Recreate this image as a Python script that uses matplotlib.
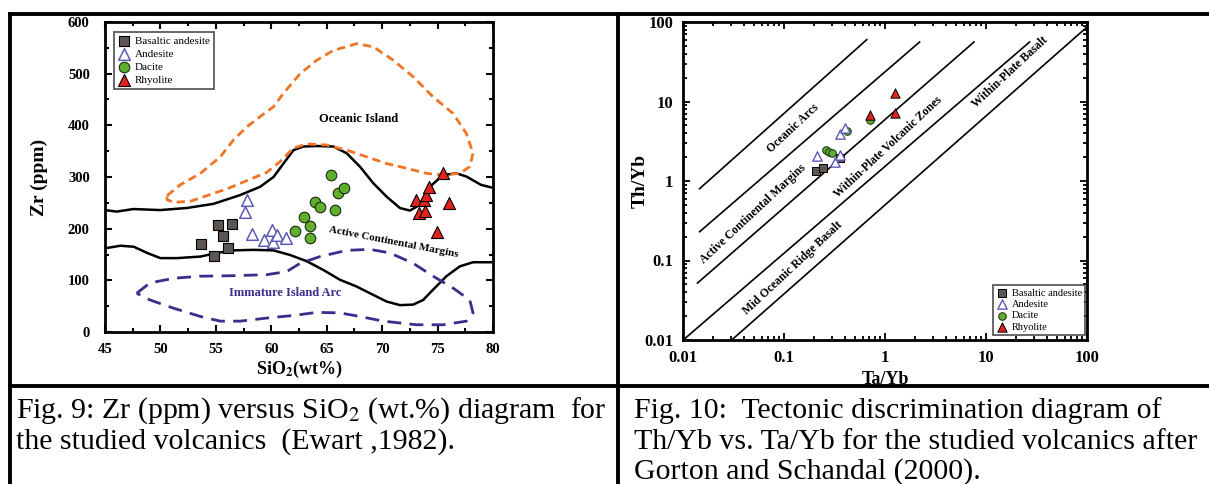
import matplotlib
matplotlib.use("Agg")
import matplotlib.pyplot as plt
from matplotlib.lines import Line2D
from matplotlib.patches import Rectangle
from matplotlib.ticker import FixedLocator, MultipleLocator, LogLocator, NullFormatter

plt.rcParams['font.family'] = ['Liberation Serif', 'DejaVu Serif']
plt.rcParams['mathtext.fontset'] = 'stix'

# ---------------- Fig. 9 data (Zr vs SiO2) ----------------
ba_sio2 = [53.7, 55.2, 55.6, 56.5, 54.8, 56.1]
ba_zr = [170, 207, 185, 209, 147, 162]
an_sio2 = [57.85, 57.64, 58.24, 59.3, 60.05, 60.14, 60.56, 61.3]
an_zr = [256, 233, 189, 178, 198, 175, 188, 182]
da_sio2 = [62.15, 62.97, 63.5, 63.5, 63.96, 64.4, 65.37, 65.76, 66.0, 66.6]
da_zr = [196, 223, 205, 182, 252, 241, 303, 236, 270, 278]
rh_sio2 = [73.08, 73.29, 73.74, 73.95, 74.25, 73.89, 75.48, 75.99, 74.94]
rh_zr = [256, 230, 256, 265, 281, 235, 307, 249, 194]

# boundary curves
upper_x = [45, 46.05, 47.56, 49.97, 52.37, 54.78, 57.19, 58.99, 60.2, 61.1, 62.0, 62.9, 64.1,
           65.6, 66.8, 68.0, 69.2, 70.4, 71.6, 72.5, 73.4, 74.3, 75.5, 76.7, 77.6, 78.9, 79.8]
upper_y = [236, 233, 238, 236, 240, 248, 265, 281, 300, 326, 352, 359, 360,
           359, 346, 320, 288, 262, 240, 235, 246, 281, 304, 307, 301, 285, 280]
lower_x = [45, 46.4, 47.6, 48.8, 50, 51.5, 53.6, 55.1, 56.6, 58.4, 60.2, 61.7, 63.2, 64.7,
           66.2, 67.7, 68.9, 70.4, 71.6, 72.8, 73.7, 74.6, 75.8, 77.0, 78.2, 79.8]
lower_y = [162, 167, 165, 153, 143, 143, 146, 153, 158, 159, 158, 149, 137, 120,
           101, 88, 75, 59, 52, 53, 62, 82, 108, 127, 135, 135]
oi_x = [50.6, 51.8, 53.6, 55.4, 56.6, 57.8, 59.0, 60.2, 61.1, 62.6, 64.1, 65.6, 67.7, 69.2,
        71.0, 72.8, 74.6, 76.4, 77.6, 78.2, 77.9, 77.0, 75.5, 74.0, 72.2, 70.4, 68.6, 66.8,
        65.0, 63.2, 62.0, 60.8, 59.6, 57.8, 56.0, 54.2, 52.7, 51.2, 50.6, 50.6]
oi_y = [264, 285, 307, 339, 372, 397, 417, 436, 462, 500, 526, 545, 558, 552,
        526, 494, 455, 423, 384, 346, 320, 307, 304, 307, 317, 326, 339, 352,
        362, 364, 356, 330, 309, 293, 277, 264, 253, 251, 256, 264]
iia_x = [47.86, 49.06, 51.2, 53.6, 56.6, 59.6, 61.4, 62.6, 64.4, 66.8, 68.9, 70.7, 72.8,
         74.6, 76.4, 77.9, 78.2, 77.6, 75.5, 73.1, 70.1, 68.0, 66.2, 64.1, 62.0, 59.6,
         57.2, 55.4, 53.6, 51.2, 49.06, 47.86]
iia_y = [75, 95, 104, 108, 109, 111, 117, 133, 146, 158, 160, 153, 133,
         108, 85, 62, 37, 21, 14, 14, 21, 30, 37, 38, 32, 27,
         21, 21, 30, 46, 62, 75]

x1_ticks = [45, 50, 55, 60, 65, 70, 75, 80]
y1_ticks = [0, 100, 200, 300, 400, 500, 600]

# ---------------- Fig. 10 data (Th/Yb vs Ta/Yb) ----------------
ba_ta = [0.206, 0.243, 0.356]
ba_th = [1.33, 1.45, 1.95]
an_ta = [0.212, 0.318, 0.36, 0.36, 0.40]
an_th = [2.05, 1.75, 2.1, 3.9, 4.6]
da_ta = [0.262, 0.280, 0.296, 0.424, 0.716]
da_th = [2.42, 2.32, 2.25, 4.3, 5.9]
rh_ta = [0.716, 1.256, 1.27]
rh_th = [6.8, 7.1, 12.8]

# discrimination lines (start/end)
l_x0 = [0.0146, 0.0146, 0.0139, 0.0105, 0.0279]
l_y0 = [0.80, 0.23, 0.052, 0.0105, 0.0091]
l_x1 = [0.66, 2.2, 7.6, 27.0, 100.0]
l_y1 = [60.0, 56.0, 56.0, 56.0, 86.5]

log_ticks = [0.01, 0.1, 1, 10, 100]
log_labels = ['0.01', '0.1', '1', '10', '100']

legend_names = ['Basaltic andesite', 'Andesite', 'Dacite', 'Rhyolite']

# ---------------- figure ----------------
fig = plt.figure(figsize=(12.09, 4.84), dpi=100)
W, H = 1209, 484

def ax_rect(l, t, r, b):
    return [l / W, 1 - b / H, (r - l) / W, (b - t) / H]

c_ba = '#5d5653'
c_an = '#5b5bb5'
c_da = '#5fae2e'
c_rh = '#e2231c'

# ---- left chart ----
ax1 = fig.add_axes(ax_rect(105, 22, 493, 332))
ax1.plot(upper_x, upper_y, color='black', lw=1.8, zorder=2)
ax1.plot(lower_x, lower_y, color='black', lw=1.8, zorder=2)
ax1.plot(oi_x, oi_y, color='#f07424', lw=2.0, dashes=(3, 1.8), zorder=2)
ax1.plot(iia_x, iia_y, color='#3a2d8c', lw=2.0, dashes=(5, 3), zorder=2)

ax1.scatter(ba_sio2, ba_zr, marker='s', s=48, c=c_ba, edgecolors='black', linewidths=0.8,
            label=legend_names[0], zorder=4)
ax1.scatter(an_sio2, an_zr, marker='^', s=70, facecolors='white', edgecolors=c_an, linewidths=1.1,
            label=legend_names[1], zorder=4)
ax1.scatter(da_sio2, da_zr, marker='o', s=58, c=c_da, edgecolors='#1a2a10', linewidths=0.8,
            label=legend_names[2], zorder=4)
ax1.scatter(rh_sio2, rh_zr, marker='^', s=75, c=c_rh, edgecolors='black', linewidths=0.8,
            label=legend_names[3], zorder=4)

ax1.text(67.9, 413, 'Oceanic Island', fontsize=9, fontweight='bold', ha='center', va='center')
ax1.text(71.0, 173, 'Active Continental Margins', fontsize=8, fontweight='bold',
         ha='center', va='center', rotation=-11)
ax1.text(61.25, 75, 'Immature Island Arc', fontsize=9, fontweight='bold', ha='center',
         va='center', color='#3a2d8c')

ax1.set_xlim(45, 80)
ax1.set_ylim(0, 600)
ax1.xaxis.set_major_locator(FixedLocator(x1_ticks))
ax1.yaxis.set_major_locator(FixedLocator(y1_ticks))
ax1.xaxis.set_minor_locator(MultipleLocator(2.5))
ax1.yaxis.set_minor_locator(MultipleLocator(50))
ax1.set_xticklabels([str(v) for v in x1_ticks])
ax1.set_yticklabels([str(v) for v in y1_ticks])
ax1.tick_params(which='both', direction='in', top=True, right=True, width=1.5)
ax1.tick_params(which='major', length=5, labelsize=10.5)
ax1.tick_params(axis='y', which='major', pad=11)
ax1.tick_params(axis='x', which='major', pad=8)
ax1.tick_params(which='minor', length=3)
for lab in ax1.get_xticklabels() + ax1.get_yticklabels():
    lab.set_fontweight('bold')
for sp in ax1.spines.values():
    sp.set_linewidth(2)
ax1.set_ylabel('Zr (ppm)', fontsize=14, fontweight='bold')
ax1.yaxis.set_label_coords(-0.148, 0.5)
ax1.set_xlabel(r'SiO$_\mathbf{2}$(wt%)', fontsize=13, fontweight='bold')
ax1.xaxis.set_label_coords(0.5, -0.088)
leg1 = ax1.legend(loc='upper left', bbox_to_anchor=(0.023, 0.968), fontsize=8,
                  frameon=True, fancybox=False, edgecolor='#333333', borderaxespad=0,
                  handletextpad=0.35, borderpad=0.35, labelspacing=0.3, handlelength=1.2)
leg1.get_frame().set_linewidth(1.3)

# ---- right chart ----
ax2 = fig.add_axes(ax_rect(683, 22, 1087, 340))
for xa, ya, xb, yb in zip(l_x0, l_y0, l_x1, l_y1):
    ax2.plot([xa, xb], [ya, yb], color='black', lw=1.2, zorder=2)

ax2.scatter(ba_ta, ba_th, marker='s', s=28, c=c_ba, edgecolors='black', linewidths=0.7,
            label=legend_names[0], zorder=4)
ax2.scatter(an_ta, an_th, marker='^', s=45, facecolors='white', edgecolors=c_an, linewidths=1.0,
            label=legend_names[1], zorder=5)
ax2.scatter(da_ta, da_th, marker='o', s=30, c=c_da, edgecolors='#1a2a10', linewidths=0.7,
            label=legend_names[2], zorder=4)
ax2.scatter(rh_ta, rh_th, marker='^', s=45, c=c_rh, edgecolors='black', linewidths=0.7,
            label=legend_names[3], zorder=4)

lbl_kw = dict(fontsize=8.5, fontweight='bold', ha='center', va='center', rotation=43,
              rotation_mode='anchor')
ax2.text(0.123, 4.57, 'Oceanic Arcs', **lbl_kw)
ax2.text(0.0493, 0.391, 'Active Continental Margins', **lbl_kw)
ax2.text(1.07, 2.69, 'Within-Plate Volcanic Zones', **lbl_kw)
ax2.text(0.123, 0.0794, 'Mid Oceanic Ridge Basalt', **lbl_kw)
ax2.text(17.1, 23.5, 'Within-Plate Basalt', **lbl_kw)

ax2.set_xscale('log')
ax2.set_yscale('log')
ax2.set_xlim(0.01, 100)
ax2.set_ylim(0.01, 100)
ax2.xaxis.set_major_locator(FixedLocator(log_ticks))
ax2.yaxis.set_major_locator(FixedLocator(log_ticks))
ax2.xaxis.set_minor_locator(LogLocator(subs=range(2, 10)))
ax2.yaxis.set_minor_locator(LogLocator(subs=range(2, 10)))
ax2.xaxis.set_minor_formatter(NullFormatter())
ax2.yaxis.set_minor_formatter(NullFormatter())
ax2.set_xticklabels(log_labels)
ax2.set_yticklabels(log_labels)
ax2.tick_params(which='both', direction='in', top=True, right=True, width=1.3)
ax2.tick_params(which='major', length=5, labelsize=12, pad=7)
ax2.tick_params(which='minor', length=3)
for lab in ax2.get_xticklabels() + ax2.get_yticklabels():
    lab.set_fontweight('bold')
for sp in ax2.spines.values():
    sp.set_linewidth(2)
ax2.set_ylabel('Th/Yb', fontsize=14, fontweight='bold')
ax2.yaxis.set_label_coords(-0.084, 0.5)
ax2.set_xlabel('Ta/Yb', fontsize=13, fontweight='bold')
ax2.xaxis.set_label_coords(0.5, -0.096)
leg2 = ax2.legend(loc='lower right', bbox_to_anchor=(0.995, 0.016), fontsize=7.5,
                  frameon=True, fancybox=False, edgecolor='#333333', borderaxespad=0,
                  handletextpad=0.3, borderpad=0.3, labelspacing=0.2, handlelength=1.2)
leg2.get_frame().set_linewidth(1.3)

# ---- table frame / caption area ----
fig.patches.append(Rectangle((10 / W, 0), 1 - 10 / W, 1 - 386 / H, transform=fig.transFigure,
                             facecolor='white', edgecolor='none', zorder=5))
line_kw = dict(color='black', lw=2.8, transform=fig.transFigure, zorder=6)
fig.lines.append(Line2D([10 / W, 1], [1 - 14 / H, 1 - 14 / H], **line_kw))
fig.lines.append(Line2D([10 / W, 1], [1 - 386 / H, 1 - 386 / H], **line_kw))
fig.lines.append(Line2D([10 / W, 10 / W], [0, 1 - 14 / H], **line_kw))
fig.lines.append(Line2D([618 / W, 618 / W], [0, 1 - 14 / H], **line_kw))

cap_kw = dict(fontsize=21.5, ha='left', va='baseline', zorder=7)
fig.text(16 / W, 1 - 418 / H, r'Fig. 9: Zr (ppm) versus SiO$_2$ (wt.%) diagram  for', **cap_kw)
fig.text(16 / W, 1 - 449 / H, 'the studied volcanics  (Ewart ,1982).', **cap_kw)
fig.text(634 / W, 1 - 418 / H, 'Fig. 10:  Tectonic discrimination diagram of', **cap_kw)
fig.text(634 / W, 1 - 449 / H, 'Th/Yb vs. Ta/Yb for the studied volcanics after', **cap_kw)
fig.text(634 / W, 1 - 479 / H, 'Gorton and Schandal (2000).', **cap_kw)

fig.savefig('out.png', dpi=100, facecolor='white')
